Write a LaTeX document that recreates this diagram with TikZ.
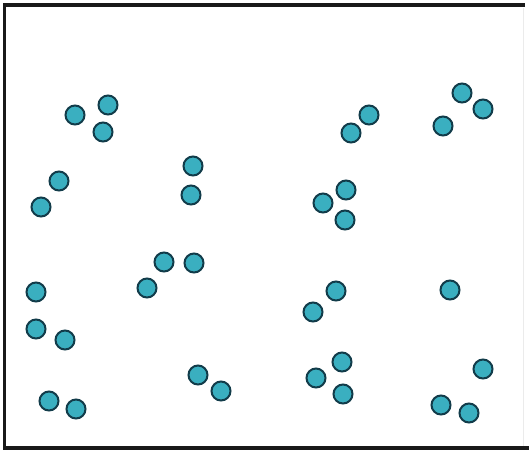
\documentclass[tikz,border=0pt]{standalone}
\usetikzlibrary{positioning}
\definecolor{beadfill}{HTML}{3AAFC0}
\definecolor{beadline}{HTML}{123C4A}

\begin{document}
\begin{tikzpicture}[x=1pt,y=-1pt,
  bead/.style={circle,draw=beadline,fill=beadfill,line width=2pt,minimum size=19pt,inner sep=0pt},
  frame/.style={line width=3.5pt,black!90}]
\useasboundingbox (0,0) rectangle (529,450);
% box walls (right side left open)
\draw[frame] (525,5) -- (4.5,5) -- (4.5,448) -- (529,448);
\draw[black!8,line width=0.8pt] (523,8) -- (523,446);
% particles
\foreach \n/\x/\y in {1/75/115,2/108/105,3/103/132,4/59/181,5/41/207,
  6/193/166,7/191/195,8/164/262,9/194/263,10/147/288,
  11/36/292,12/36/329,13/65/340,14/49/401,15/76/409,
  16/198/375,17/221/391,18/369/115,19/351/133,20/462/93,
  21/483/109,22/443/126,23/346/190,24/323/203,25/345/220,
  26/336/291,27/313/312,28/450/290,29/342/362,30/316/378,
  31/343/394,32/483/369,33/441/405,34/469/413}
  \node[bead] (p\n) at (\x,\y) {};
\end{tikzpicture}
\end{document}
